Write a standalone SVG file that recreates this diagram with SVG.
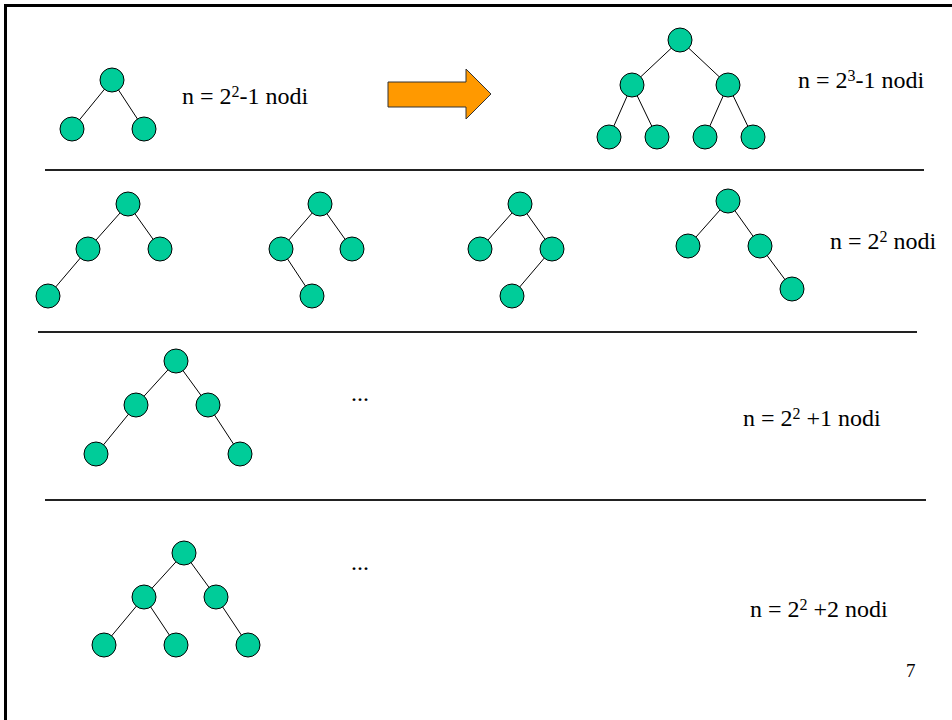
<svg xmlns="http://www.w3.org/2000/svg" width="952" height="720" viewBox="0 0 952 720">
<style>
.n{fill:#00CC99;stroke:#000;stroke-width:1}
.e{stroke:#000;stroke-width:1;fill:none}
.sep{stroke:#222;stroke-width:2}
text{font-family:'Liberation Serif','DejaVu Serif','Times New Roman',serif;font-size:24px;fill:#000}
.s{font-size:16px}
</style>
<rect x="0" y="0" width="952" height="720" fill="#fff"/>
<rect x="5.5" y="5.5" width="960" height="730" fill="none" stroke="#000" stroke-width="3"/>
<g id="separators">
<line class="sep" x1="45" y1="170" x2="924" y2="170"/>
<line class="sep" x1="38" y1="332" x2="917" y2="332"/>
<line class="sep" x1="45" y1="500" x2="926" y2="500"/>
</g>
<g id="connectors">
<line class="e" x1="112" y1="80" x2="72" y2="129"/>
<line class="e" x1="112" y1="80" x2="144" y2="129"/>
<line class="e" x1="680" y1="40" x2="632" y2="85"/>
<line class="e" x1="680" y1="40" x2="728" y2="85"/>
<line class="e" x1="632" y1="85" x2="609" y2="137"/>
<line class="e" x1="632" y1="85" x2="657" y2="137"/>
<line class="e" x1="728" y1="85" x2="705" y2="137"/>
<line class="e" x1="728" y1="85" x2="753" y2="137"/>
<line class="e" x1="128" y1="204" x2="88" y2="249"/>
<line class="e" x1="128" y1="204" x2="160" y2="249"/>
<line class="e" x1="88" y1="249" x2="48" y2="296"/>
<line class="e" x1="320" y1="204" x2="281" y2="249"/>
<line class="e" x1="320" y1="204" x2="352" y2="249"/>
<line class="e" x1="281" y1="249" x2="312" y2="296"/>
<line class="e" x1="520" y1="204" x2="480" y2="249"/>
<line class="e" x1="520" y1="204" x2="552" y2="249"/>
<line class="e" x1="552" y1="249" x2="512" y2="296"/>
<line class="e" x1="728" y1="201" x2="688" y2="246"/>
<line class="e" x1="728" y1="201" x2="760" y2="246"/>
<line class="e" x1="760" y1="246" x2="792" y2="289"/>
<line class="e" x1="176" y1="361" x2="136" y2="405"/>
<line class="e" x1="176" y1="361" x2="208" y2="405"/>
<line class="e" x1="136" y1="405" x2="96" y2="454"/>
<line class="e" x1="208" y1="405" x2="240" y2="454"/>
<line class="e" x1="184" y1="553" x2="144" y2="597"/>
<line class="e" x1="184" y1="553" x2="216" y2="597"/>
<line class="e" x1="144" y1="597" x2="104" y2="645"/>
<line class="e" x1="144" y1="597" x2="176" y2="645"/>
<line class="e" x1="216" y1="597" x2="248" y2="645"/>
</g>
<g id="tree1">
<circle class="n" cx="112" cy="80" r="12"/>
<circle class="n" cx="72" cy="129" r="12"/>
<circle class="n" cx="144" cy="129" r="12"/>
</g>
<g id="label1"><text x="182" y="104">n = 2<tspan class="s" dy="-7">2</tspan><tspan dy="7">-1 nodi</tspan></text></g>
<g id="arrow"><polygon points="388,82 466,82 466,69 491,94 466,119 466,107 388,107" fill="#FF9900" stroke="#333" stroke-width="1"/></g>
<g id="tree2">
<circle class="n" cx="680" cy="40" r="12"/>
<circle class="n" cx="632" cy="85" r="12"/>
<circle class="n" cx="728" cy="85" r="12"/>
<circle class="n" cx="609" cy="137" r="12"/>
<circle class="n" cx="657" cy="137" r="12"/>
<circle class="n" cx="705" cy="137" r="12"/>
<circle class="n" cx="753" cy="137" r="12"/>
</g>
<g id="label2"><text x="798" y="88">n = 2<tspan class="s" dy="-7">3</tspan><tspan dy="7">-1 nodi</tspan></text></g>
<g id="tree3">
<circle class="n" cx="128" cy="204" r="12"/>
<circle class="n" cx="88" cy="249" r="12"/>
<circle class="n" cx="160" cy="249" r="12"/>
<circle class="n" cx="48" cy="296" r="12"/>
</g>
<g id="tree4">
<circle class="n" cx="320" cy="204" r="12"/>
<circle class="n" cx="281" cy="249" r="12"/>
<circle class="n" cx="352" cy="249" r="12"/>
<circle class="n" cx="312" cy="296" r="12"/>
</g>
<g id="tree5">
<circle class="n" cx="520" cy="204" r="12"/>
<circle class="n" cx="480" cy="249" r="12"/>
<circle class="n" cx="552" cy="249" r="12"/>
<circle class="n" cx="512" cy="296" r="12"/>
</g>
<g id="tree6">
<circle class="n" cx="728" cy="201" r="12"/>
<circle class="n" cx="688" cy="246" r="12"/>
<circle class="n" cx="760" cy="246" r="12"/>
<circle class="n" cx="792" cy="289" r="12"/>
</g>
<g id="label3"><text x="830" y="249">n = 2<tspan class="s" dy="-7">2</tspan><tspan dy="7"> nodi</tspan></text></g>
<g id="tree7">
<circle class="n" cx="176" cy="361" r="12"/>
<circle class="n" cx="136" cy="405" r="12"/>
<circle class="n" cx="208" cy="405" r="12"/>
<circle class="n" cx="96" cy="454" r="12"/>
<circle class="n" cx="240" cy="454" r="12"/>
</g>
<g id="dots1"><text x="351" y="401">...</text></g>
<g id="label4"><text x="743" y="426">n = 2<tspan class="s" dy="-7">2</tspan><tspan dy="7"> +1 nodi</tspan></text></g>
<g id="tree8">
<circle class="n" cx="184" cy="553" r="12"/>
<circle class="n" cx="144" cy="597" r="12"/>
<circle class="n" cx="216" cy="597" r="12"/>
<circle class="n" cx="104" cy="645" r="12"/>
<circle class="n" cx="176" cy="645" r="12"/>
<circle class="n" cx="248" cy="645" r="12"/>
</g>
<g id="dots2"><text x="351" y="570">...</text></g>
<g id="label5"><text x="750" y="617">n = 2<tspan class="s" dy="-7">2</tspan><tspan dy="7"> +2 nodi</tspan></text></g>
<g id="pagenum"><text x="906" y="677" style="font-size:19px">7</text></g>
</svg>
